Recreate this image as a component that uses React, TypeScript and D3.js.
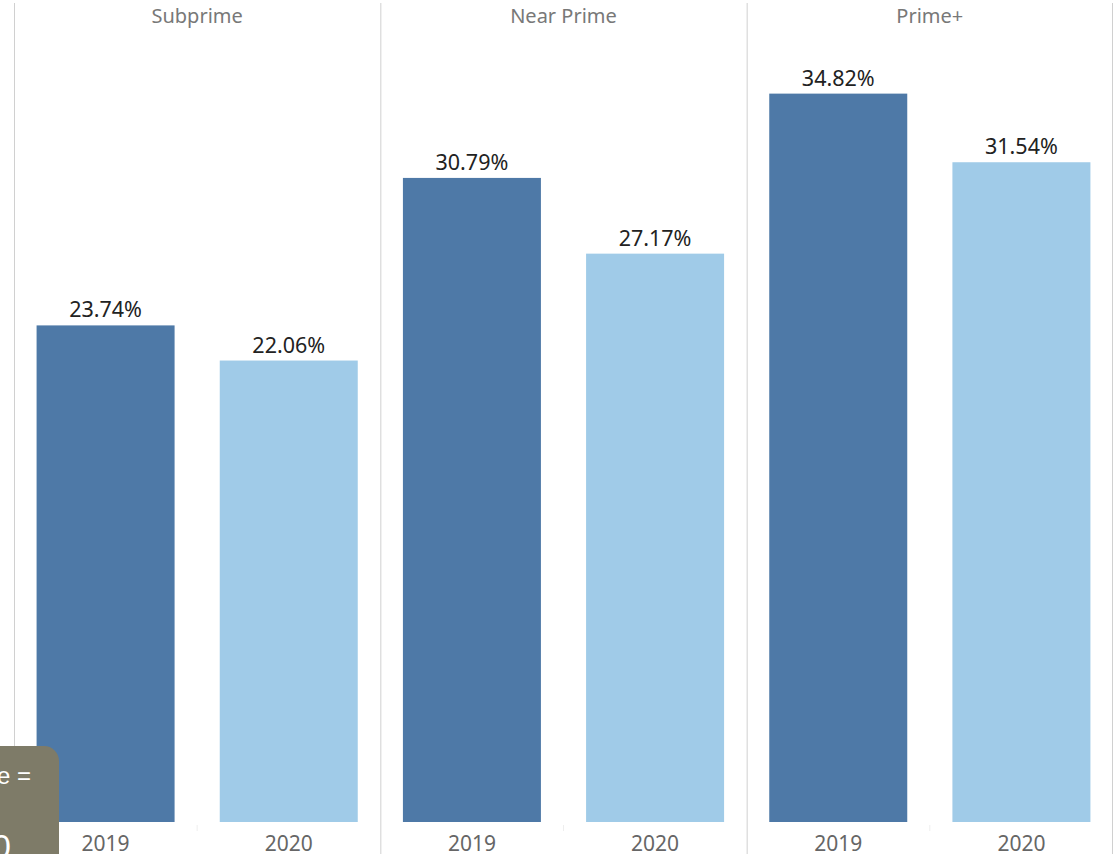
import React from "react";
import * as d3 from "d3";

const segments = ["Subprime", "Near Prime", "Prime+"];
const years = ["2019", "2020"];
const values2019 = [0.2374, 0.3079, 0.3482];
const values2020 = [0.2206, 0.2717, 0.3154];
const yearColors = ["#4e79a7", "#a0cbe8"];

const W = 1115;
const H = 854;

export default function App() {
  const panelX = d3.scaleBand<string>().domain(segments).range([14, 1113]).paddingInner(0).paddingOuter(0);
  const innerX = d3.scaleBand<string>().domain(years).range([0, panelX.bandwidth()]).paddingInner(0).paddingOuter(0);
  const y = d3.scaleLinear().domain([0, 0.38]).range([822, 27.1]);
  const fmt = d3.format(".2%");
  const barW = 138;
  const font = "'Noto Sans', 'DejaVu Sans', sans-serif";

  const rows = segments.map((s, i) => ({ seg: s, vals: [values2019[i], values2020[i]] }));

  return (
    <svg width={W} height={H} style={{ position: "absolute", left: 0, top: 0, background: "#fff" }} fontFamily={font}>
      <rect x={0} y={0} width={W} height={H} fill="#fff" />
      {segments.map((s) => (
        <line key={"l" + s} x1={panelX(s)! + 0.5} x2={panelX(s)! + 0.5} y1={3} y2={H} stroke="#d0d0d0" strokeWidth={1} />
      ))}
      <line x1={1112.5} x2={1112.5} y1={3} y2={H} stroke="#d0d0d0" strokeWidth={1} />
      {rows.map((r) => {
        const px = panelX(r.seg)!;
        return (
          <g key={r.seg}>
            <text x={px + panelX.bandwidth() / 2} y={23} textAnchor="middle" fontSize={20} fill="#787878">
              {r.seg}
            </text>
            <line x1={px + panelX.bandwidth() / 2} x2={px + panelX.bandwidth() / 2} y1={825} y2={831} stroke="#eeeeee" strokeWidth={1} />
            {years.map((yr, j) => {
              const cx = px + innerX(yr)! + innerX.bandwidth() / 2;
              const v = r.vals[j];
              return (
                <g key={yr}>
                  <rect x={cx - barW / 2} y={y(v)} width={barW} height={y(0) - y(v)} fill={yearColors[j]} />
                  <text x={cx} y={y(v) - 8} textAnchor="middle" fontSize={21.5} fill="#222">
                    {fmt(v)}
                  </text>
                  <text x={cx} y={851} textAnchor="middle" fontSize={21} fill="#666">
                    {yr}
                  </text>
                </g>
              );
            })}
          </g>
        );
      })}
      <path d="M0,746 H44 A15,15 0 0 1 59,761 V854 H0 Z" fill="#7e7b68" />
      <text x={-3} y={784} fontSize={24} fill="#fff" fontFamily="'Liberation Sans', Arial, sans-serif">e =</text>
      <text x={-8} y={858} fontSize={34} fill="#fff" fontFamily="'Liberation Sans', Arial, sans-serif">0</text>
    </svg>
  );
}
